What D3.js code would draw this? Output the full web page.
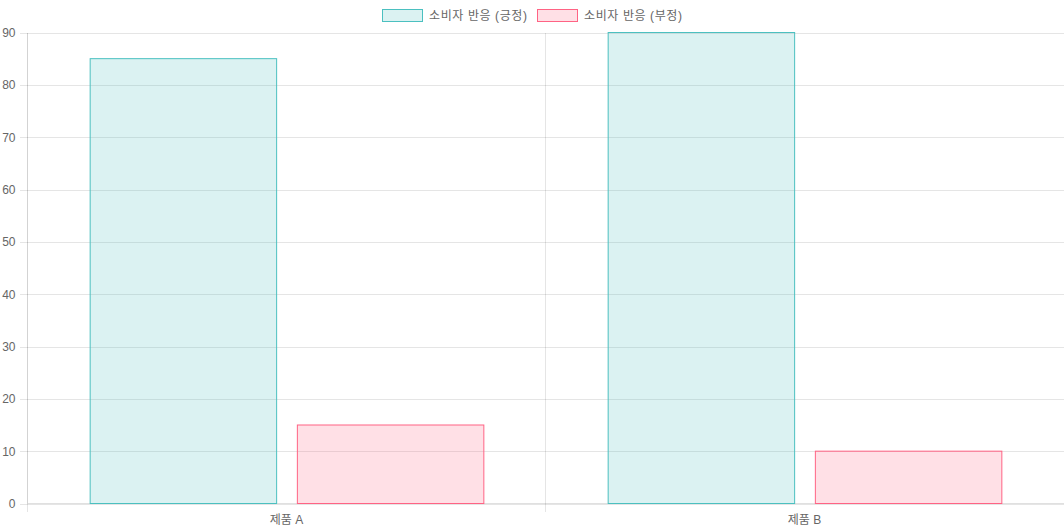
<!DOCTYPE html>
<html><head><meta charset="utf-8">
<script src="https://cdn.jsdelivr.net/npm/d3@7"></script>
<style>
html,body{margin:0;padding:0;background:#fff;}
svg{display:block;}
text{font-family:"Liberation Sans","Noto Sans CJK KR",Arial,sans-serif;font-size:12px;fill:#666;}
</style></head>
<body><svg id="c" width="1064" height="532"></svg>
<script>
const categories = ["제품 A", "제품 B"];
const seriesNames = ["소비자 반응 (긍정)", "소비자 반응 (부정)"];
const positive = [85, 90];
const negative = [15, 10];
const yTicks = [0, 10, 20, 30, 40, 50, 60, 70, 80, 90];

const fills = ["rgba(75,192,192,0.2)", "rgba(255,99,132,0.2)"];
const strokes = ["rgb(75,192,192)", "rgb(255,99,132)"];
const series = [positive, negative];

const svg = d3.select("#c");
const pL = 27.5, pR = 1063.5, pT = 32.5, pB = 503.5;

const x = d3.scaleBand().domain(categories).range([pL, pR]).paddingInner(0).paddingOuter(0);
// categoryPercentage 0.8, barPercentage 0.9
const catW = x.bandwidth() * 0.8;
const sub = catW / series.length;
const barW = sub * 0.9;
const y = d3.scaleLinear().domain([0, 90]).range([pB, pT]);

const grid = "rgba(0,0,0,0.1)";
// horizontal grid
const yAxis = d3.axisLeft(y).tickValues(yTicks).tickSize(pR - pL + 8).tickPadding(4);
const gy = svg.append("g").attr("transform", `translate(${pR},0)`).call(yAxis);
gy.select(".domain").remove();
gy.selectAll("line").attr("stroke", grid).attr("shape-rendering", "crispEdges");
gy.selectAll("text").attr("fill", "#666").style("font-size", "12px");

// vertical grid lines between categories
const vLines = [pL, x(categories[1])];
svg.append("g").selectAll("line").data(vLines).join("line")
  .attr("x1", d => Math.floor(d) + 0.5).attr("x2", d => Math.floor(d) + 0.5)
  .attr("y1", pT).attr("y2", pB + 8)
  .attr("stroke", grid).attr("shape-rendering", "crispEdges");
// axis lines
svg.append("line").attr("x1", pL).attr("x2", pR).attr("y1", pB).attr("y2", pB)
  .attr("stroke", "rgba(0,0,0,0.12)").attr("shape-rendering", "crispEdges");
svg.append("line").attr("x1", pL).attr("x2", pL).attr("y1", pT).attr("y2", pB)
  .attr("stroke", "rgba(0,0,0,0.08)").attr("shape-rendering", "crispEdges");

// bars
series.forEach((vals, si) => {
  svg.append("g").selectAll("rect").data(vals).join("rect")
    .attr("x", (d, i) => x(categories[i]) + x.bandwidth() * 0.1 + sub * si + (sub - barW) / 2 + 0.5)
    .attr("y", d => y(d))
    .attr("width", barW)
    .attr("height", d => pB - y(d))
    .attr("fill", fills[si])
    .attr("stroke", strokes[si])
    .attr("stroke-width", 1);
});

// x labels
svg.append("g").selectAll("text").data(categories).join("text")
  .attr("x", d => x(d) + x.bandwidth() / 2)
  .attr("y", 524)
  .attr("text-anchor", "middle")
  .text(d => d);

// legend
const legX = [382.5, 537.5];
const lg = svg.append("g");
seriesNames.forEach((n, i) => {
  lg.append("rect").attr("x", legX[i]).attr("y", 9.5).attr("width", 40).attr("height", 12)
    .attr("fill", fills[i]).attr("stroke", strokes[i]).attr("stroke-width", 1);
  lg.append("text").attr("x", legX[i] + 46.5).attr("y", 19.5)
    .attr("textLength", 98).attr("lengthAdjust", "spacing").text(n);
});
</script></body></html>
